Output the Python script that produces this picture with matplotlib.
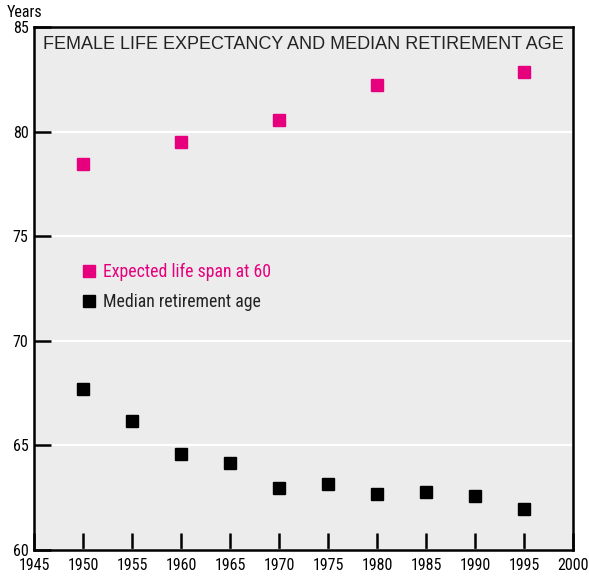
import numpy as np
import matplotlib.pyplot as plt
from matplotlib.lines import Line2D
from matplotlib import font_manager

# Data
life_years = [1950, 1960, 1970, 1980, 1995]
life_span = [78.46, 79.51, 80.57, 82.24, 82.86]

retire_years = [1950, 1955, 1960, 1965, 1970, 1975, 1980, 1985, 1990, 1995]
retire_age = [67.70, 66.15, 64.59, 64.16, 62.96, 63.13, 62.65, 62.75, 62.56, 61.93]

x_ticks = list(range(1945, 2001, 5))
y_ticks = [60, 65, 70, 75, 80, 85]

pink = "#e6007e"

# pick a condensed face if one is installed
names = {f.name for f in font_manager.fontManager.ttflist}
narrow = [n for n in ["Liberation Sans Narrow", "DejaVu Sans Condensed", "Roboto Condensed",
                      "Open Sans Condensed", "Liberation Sans"] if n in names] or ["DejaVu Sans"]

fig = plt.figure(figsize=(5.89, 5.80), dpi=100)
ax = fig.add_axes([0.0577, 0.052, 0.9153, 0.901])
ax.set_facecolor("#ececec")

ax.set_xlim(1945, 2000)
ax.set_ylim(60, 85)
ax.set_xticks(x_ticks)
ax.set_yticks(y_ticks)
ax.set_xticklabels([str(t) for t in x_ticks], family=narrow, fontsize=11.5)
ax.set_yticklabels([str(t) for t in y_ticks], family=narrow, fontsize=11.5)

for s in ax.spines.values():
    s.set_linewidth(1.8)
ax.tick_params(direction="in", length=12, width=1.8, pad=4)
ax.tick_params(axis="x", pad=6)
ax.grid(axis="y", color="white", linewidth=1.6)
ax.set_axisbelow(True)

ax.plot(life_years, life_span, linestyle="none", marker="s", ms=8.6, color=pink, zorder=3)
ax.plot(retire_years, retire_age, linestyle="none", marker="s", ms=8.6, color="black", zorder=3)

ax.text(0.5, 0.967, "FEMALE LIFE EXPECTANCY AND MEDIAN RETIREMENT AGE",
        transform=ax.transAxes, ha="center", va="center", fontsize=13.0,
        family=["Liberation Sans", "DejaVu Sans"], color="#222222")

handles = [Line2D([], [], linestyle="none", marker="s", ms=8, color=pink),
           Line2D([], [], linestyle="none", marker="s", ms=8, color="black")]
leg = ax.legend(handles, ["Expected life span at 60", "Median retirement age"],
                loc="upper left", bbox_to_anchor=(0.055, 0.58), frameon=False,
                prop={"family": narrow, "size": 12.8}, handletextpad=0.3,
                labelspacing=0.7, handlelength=1.0)
leg.get_texts()[0].set_color(pink)
leg.get_texts()[1].set_color("#222222")

fig.text(0.012, 0.978, "Years", family=narrow, fontsize=11.5, ha="left", va="center")

fig.savefig("out.png", dpi=100)
